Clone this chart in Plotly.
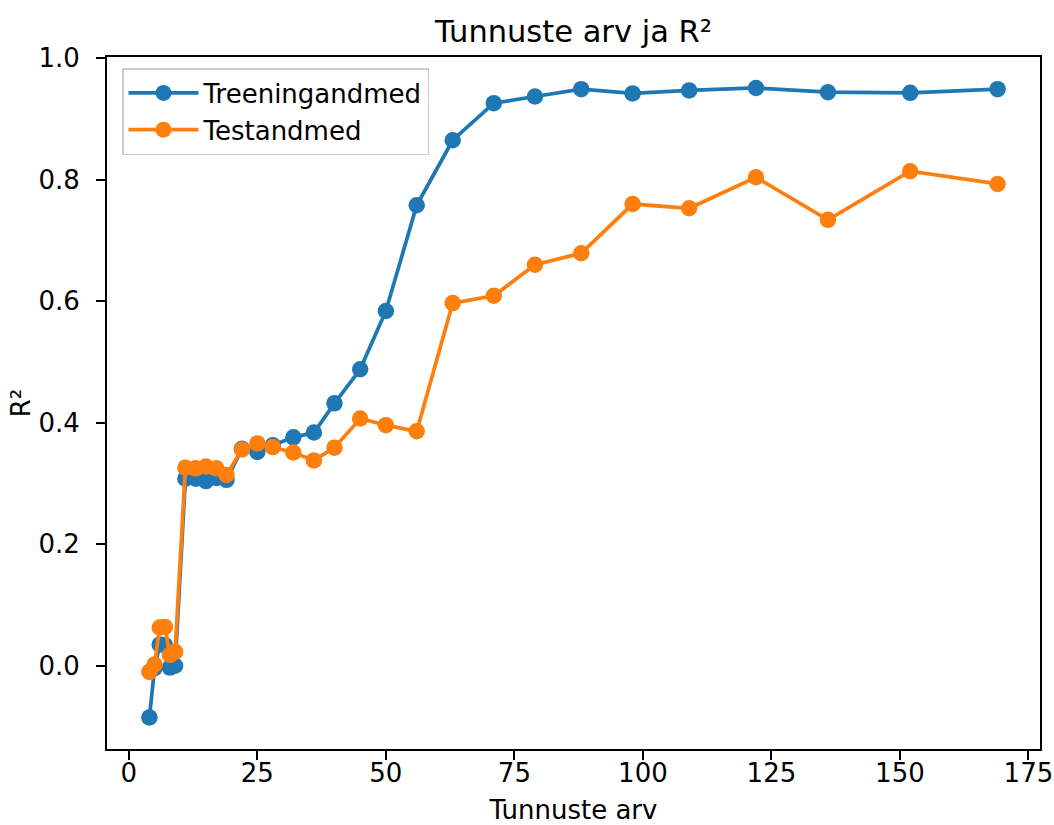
import plotly.graph_objects as go

features = [4, 5, 6, 7, 8, 9, 11, 13, 15, 17, 19, 22, 25, 28, 32, 36, 40, 45, 50, 56,
            63, 71, 79, 88, 98, 109, 122, 136, 152, 169]
train_r2 = [-0.085, -0.004, 0.035, 0.034, -0.003, 0.000, 0.308, 0.308, 0.304, 0.309,
            0.306, 0.357, 0.352, 0.363, 0.376, 0.384, 0.432, 0.488, 0.584, 0.758,
            0.865, 0.926, 0.937, 0.949, 0.942, 0.947, 0.951, 0.944, 0.943, 0.949]
test_r2 = [-0.010, 0.002, 0.063, 0.064, 0.018, 0.023, 0.326, 0.325, 0.328, 0.325,
           0.314, 0.356, 0.366, 0.360, 0.351, 0.338, 0.359, 0.407, 0.396, 0.386,
           0.597, 0.609, 0.660, 0.679, 0.760, 0.753, 0.804, 0.734, 0.814, 0.793]

title = "Tunnuste arv ja R²"
x_label = "Tunnuste arv"
y_label = "R²"
train_name = "Treeningandmed"
test_name = "Testandmed"

FONT = "DejaVu Sans"
FS = 26

fig = go.Figure()
fig.add_trace(go.Scatter(x=features, y=train_r2, mode="lines+markers", name=train_name,
                         line=dict(color="#1f77b4", width=3.75),
                         marker=dict(color="#1f77b4", size=16.5)))
fig.add_trace(go.Scatter(x=features, y=test_r2, mode="lines+markers", name=test_name,
                         line=dict(color="#ff7f0e", width=3.75),
                         marker=dict(color="#ff7f0e", size=16.5)))

axis_common = dict(showline=True, linecolor="black", linewidth=2, mirror=True,
                   ticks="outside", ticklen=9, tickwidth=2, tickcolor="black",
                   showgrid=False, zeroline=False, automargin=False,
                   tickfont=dict(family=FONT, size=FS, color="black"))

fig.update_layout(
    width=1054, height=825,
    margin=dict(l=107, r=14, t=57, b=76),
    paper_bgcolor="white", plot_bgcolor="white",
    font=dict(family=FONT, size=FS, color="black"),
    title=dict(text=title, x=(107 + 1040) / 2 / 1054, xanchor="center",
               y=1 - 31 / 825, yanchor="middle", yref="container",
               font=dict(family=FONT, size=30.5, color="black")),
    xaxis=dict(range=[-4.25, 177.25], tickvals=[0, 25, 50, 75, 100, 125, 150, 175],
               title=dict(text=x_label, standoff=17, font=dict(family=FONT, size=FS)),
               ticklabelstandoff=-9, **axis_common),
    yaxis=dict(range=[-0.137, 1.002], tickvals=[0.0, 0.2, 0.4, 0.6, 0.8, 1.0],
               tickformat=".1f",
               title=dict(text=y_label, standoff=0, font=dict(family=FONT, size=FS)),
               ticklabelstandoff=11, **axis_common),
    legend=dict(x=15 / 933, y=1 - 11 / 692, xanchor="left", yanchor="top",
                bgcolor="white", bordercolor="#cccccc", borderwidth=1.5,
                itemwidth=70,
                font=dict(family=FONT, size=FS, color="black")),
    showlegend=True,
)

fig.write_html("out.html", config={"displayModeBar": False},
               post_script="document.body.style.margin='0px';document.body.style.overflow='hidden';")
